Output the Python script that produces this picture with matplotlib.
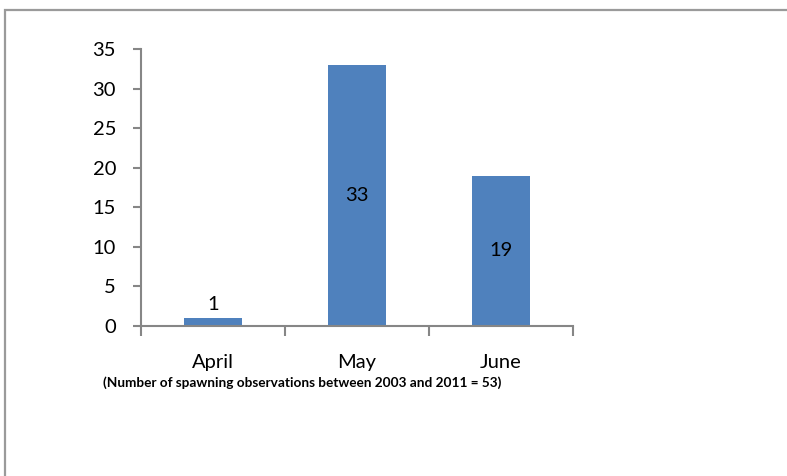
import matplotlib.pyplot as plt
from matplotlib.patches import Rectangle

months = ['April', 'May', 'June']
counts = [1, 33, 19]
yticks = [0, 5, 10, 15, 20, 25, 30, 35]
caption = '(Number of spawning observations between 2003 and 2011 = 53)'

plt.rcParams['font.family'] = ['Lato', 'DejaVu Sans']

fig = plt.figure(figsize=(7.87, 4.76), dpi=100)
W, H = 787, 476

# outer chart border (cropped at right/bottom like the original)
fig.patches.append(Rectangle((5 / W, -0.1), 1.1, (H - 10) / H + 0.1,
                             transform=fig.transFigure, fill=False,
                             edgecolor='#9a9a9a', linewidth=1.6))

ax = fig.add_axes([141 / W, 1 - 326 / H, (573 - 141) / W, (326 - 49) / H])

x = range(len(months))
ax.bar(x, counts, width=0.4, color='#4F81BD')

fs = 14.5
for i, v in enumerate(counts):
    if v < 3:
        ax.text(i, v + 0.7, str(v), ha='center', va='bottom', fontsize=fs)
    else:
        ax.text(i, v / 2, str(v), ha='center', va='center', fontsize=fs)

ax.set_xlim(-0.5, 2.5)
ax.set_ylim(0, 35)
ax.set_yticks(yticks)

ax.set_xticks([-0.5, 0.5, 1.5, 2.5])
ax.set_xticklabels([])
ax.set_xticks(list(x), minor=True)
ax.set_xticklabels(months, minor=True, fontsize=fs)
ax.tick_params(axis='x', which='major', length=7, width=1.5, color='#868686', direction='out')
ax.tick_params(axis='x', which='minor', length=0, pad=20)
ax.tick_params(axis='y', length=6, width=1.5, color='#868686', pad=12, labelsize=fs)

for s in ['top', 'right']:
    ax.spines[s].set_visible(False)
for s in ['left', 'bottom']:
    ax.spines[s].set_color('#868686')
    ax.spines[s].set_linewidth(1.5)

fig.text(103 / W, 1 - 383 / H, caption, fontsize=9.8, fontweight='bold', va='center')

fig.savefig('out.png', dpi=100)
